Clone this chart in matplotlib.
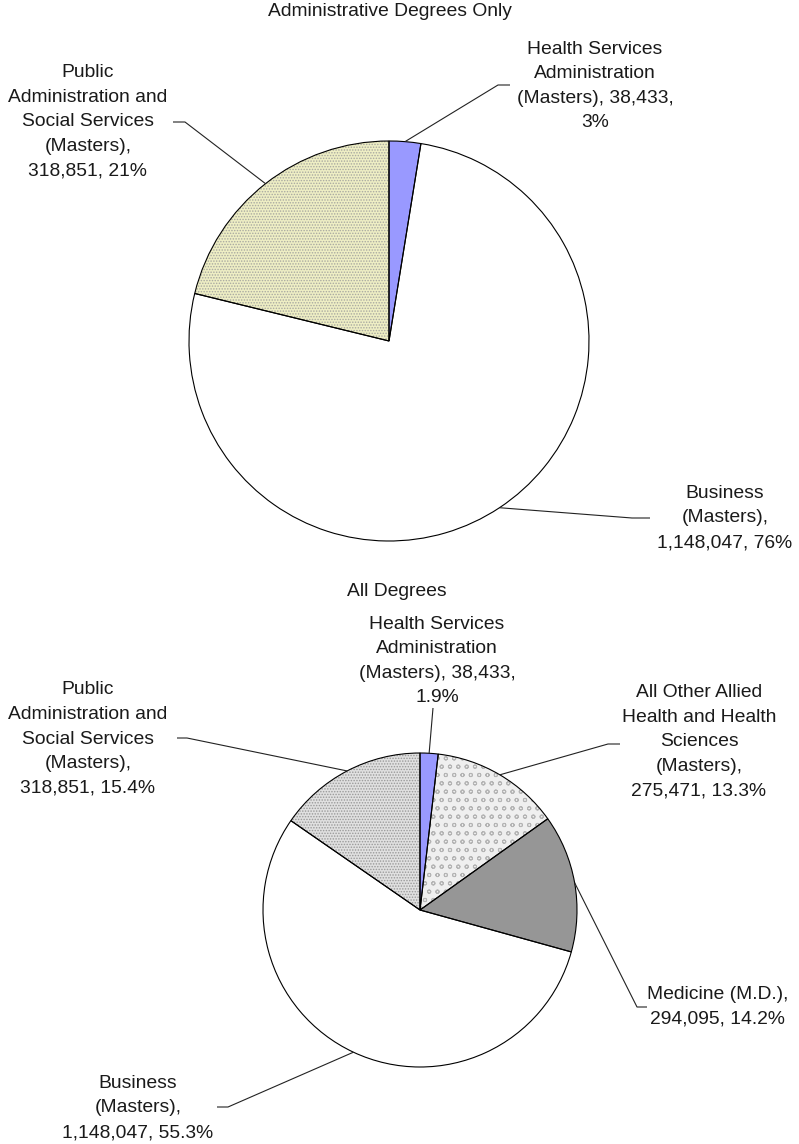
import numpy as np
import matplotlib
matplotlib.use('Agg')
import matplotlib.pyplot as plt

W, H = 799, 1144

## data
top_title = 'Administrative Degrees Only'
top_labels = ['Health Services\nAdministration\n(Masters), 38,433,\n3%',
              'Business\n(Masters),\n1,148,047, 76%',
              'Public\nAdministration and\nSocial Services\n(Masters),\n318,851, 21%']
top_values = [38433, 1148047, 318851]

bot_title = 'All Degrees'
bot_labels = ['Health Services\nAdministration\n(Masters), 38,433,\n1.9%',
              'All Other Allied\nHealth and Health\nSciences\n(Masters),\n275,471, 13.3%',
              'Medicine (M.D.),\n294,095, 14.2%',
              'Business\n(Masters),\n1,148,047, 55.3%',
              'Public\nAdministration and\nSocial Services\n(Masters),\n318,851, 15.4%']
bot_values = [38433, 275471, 294095, 1148047, 318851]

## styles
top_face = ['#9999FF', 'white', '#EEEEC4']
top_hatch = [None, None, '......']
top_hcol = ['#9999FF', 'white', '#A8A8A0']

bot_face = ['#9999FF', '#EFEFEF', '#969696', 'white', '#E0E0E0']
bot_hatch = [None, 'oo', None, None, '......']
bot_hcol = ['#9999FF', '#B4B4B4', '#969696', 'white', '#999999']

## layout in picture pixels (y downwards): text centre, elbow, end of leader
top_center, top_r = (389, 341), 200
top_text = [(595, 86), (725, 518), (88, 122)]
top_lead = [[(498, 85), (510, 85)], [(632, 518), (650, 518)], [(185, 122), (173, 122)]]

bot_center, bot_r = (420, 910), 157
bot_text = [(437, 661), (699, 742), (718, 1007), (138, 1108), (88, 739)]
bot_lead = [[(433, 708)], [(608, 744), (620, 744)], [(637, 1007), (647, 1007)],
            [(228, 1107), (217, 1107)], [(187, 738), (177, 738)]]

FS = 13.9
TXT = '#1a1a1a'
plt.rcParams['font.family'] = ['Liberation Sans', 'DejaVu Sans']
plt.rcParams['hatch.linewidth'] = 0.7

def Y(y):
    return H - y

def draw_pie(ax, values, labels, face, hatch, hcol, center, r, text, lead):
    c = (center[0], Y(center[1]))
    wedges, _ = ax.pie(values, colors=face, startangle=90, counterclock=False,
                       center=c, radius=r, wedgeprops=dict(linewidth=0))
    for w, h, hc in zip(wedges, hatch, hcol):
        if h:
            w.set_hatch(h)
            w.set_edgecolor(hc)
    ## outlines on top
    ax.pie(values, colors=['none'] * len(values), startangle=90, counterclock=False,
           center=c, radius=r,
           wedgeprops=dict(linewidth=0.8, edgecolor='black', fill=False))
    frac = np.array(values, dtype=float) / np.sum(values)
    cum = np.cumsum(frac) - frac / 2.
    for i, lab in enumerate(labels):
        th = np.deg2rad(90. - 360. * cum[i])
        x0, y0 = c[0] + r * np.cos(th), c[1] + r * np.sin(th)
        xs = [x0] + [p[0] for p in lead[i]]
        ys = [y0] + [Y(p[1]) for p in lead[i]]
        ax.plot(xs, ys, color='#222222', lw=0.8, solid_capstyle='butt')
        ax.text(text[i][0], Y(text[i][1]), lab, ha='center', va='center',
                multialignment='center', fontsize=FS, color=TXT, linespacing=1.58)

fig = plt.figure(figsize=(W / 100., H / 100.), dpi=100)
ax = fig.add_axes([0, 0, 1, 1])

draw_pie(ax, top_values, top_labels, top_face, top_hatch, top_hcol,
         top_center, top_r, top_text, top_lead)
draw_pie(ax, bot_values, bot_labels, bot_face, bot_hatch, bot_hcol,
         bot_center, bot_r, bot_text, bot_lead)

ax.text(390, Y(12), top_title, ha='center', va='center', fontsize=FS, color=TXT)
ax.text(397, Y(592), bot_title, ha='center', va='center', fontsize=FS, color=TXT)

ax.set_xlim(0, W)
ax.set_ylim(0, H)
ax.set_aspect('equal')
ax.axis('off')

plt.savefig('out.png', dpi=100)
